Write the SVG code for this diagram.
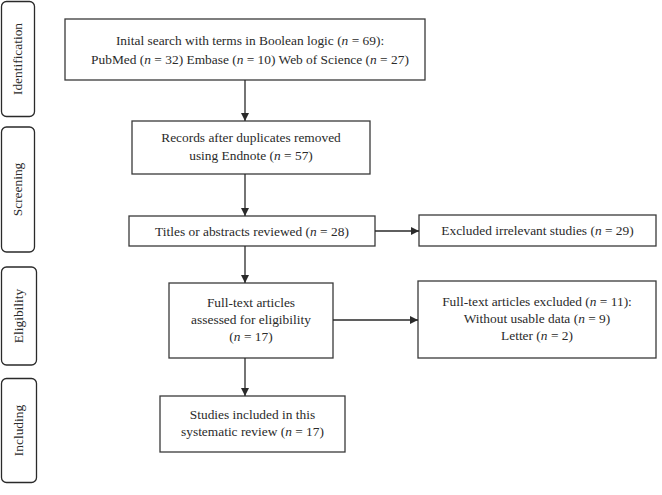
<svg xmlns="http://www.w3.org/2000/svg" width="662" height="495" viewBox="0 0 662 495">
<style>
.box{fill:#fff;stroke:#3a3a3a;stroke-width:1.3}
.side{fill:#fff;stroke:#2a2a2a;stroke-width:1.3}
text{font-family:"Liberation Serif","Times New Roman",serif;font-size:13.4px;fill:#2a2a2a;text-anchor:middle}
.lbl{font-size:13.4px}
.c{stroke:#2a2a2a;stroke-width:1.3;fill:none;marker-end:url(#ah)}
</style>
<defs>
<marker id="ah" markerWidth="10" markerHeight="10" refX="8" refY="4" orient="auto" markerUnits="userSpaceOnUse">
<path d="M0,0 L8,4 L0,8 Z" fill="#2a2a2a"/>
</marker>
</defs>
<rect width="662" height="495" fill="#fff"/>
<g id="stage-identification">
<rect class="side" x="1.5" y="1.5" width="33" height="115" rx="5"/>
<text class="lbl" transform="translate(22,59) rotate(-90)">Identification</text>
</g>
<g id="stage-screening">
<rect class="side" x="1.5" y="127" width="33" height="125" rx="5"/>
<text class="lbl" transform="translate(22,189.5) rotate(-90)">Screening</text>
</g>
<g id="stage-eligibility">
<rect class="side" x="1.5" y="267" width="35" height="98" rx="5"/>
<text class="lbl" transform="translate(23,316) rotate(-90)">Eligibility</text>
</g>
<g id="stage-including">
<rect class="side" x="1.5" y="378.5" width="35" height="104" rx="5"/>
<text class="lbl" transform="translate(23,430.5) rotate(-90)">Including</text>
</g>
<g id="n-search">
<rect class="box" x="65" y="19" width="360" height="61"/>
<text x="250" y="45">Inital search with terms in Boolean logic (<tspan font-style="italic">n</tspan> = 69):</text>
<text x="250" y="64">PubMed (<tspan font-style="italic">n</tspan> = 32) Embase (<tspan font-style="italic">n</tspan> = 10) Web of Science (<tspan font-style="italic">n</tspan> = 27)</text>
</g>
<g id="n-dedup">
<rect class="box" x="132" y="121" width="238" height="53"/>
<text x="251" y="142">Records after duplicates removed</text>
<text x="251" y="160">using Endnote (<tspan font-style="italic">n</tspan> = 57)</text>
</g>
<g id="n-titles">
<rect class="box" x="129" y="216" width="246" height="30"/>
<text x="252" y="235.5">Titles or abstracts reviewed (<tspan font-style="italic">n</tspan> = 28)</text>
</g>
<g id="n-excl1">
<rect class="box" x="419" y="215" width="237" height="31"/>
<text x="537.5" y="235">Excluded irrelevant studies (<tspan font-style="italic">n</tspan> = 29)</text>
</g>
<g id="n-fulltext">
<rect class="box" x="169" y="283" width="164" height="75"/>
<text x="251" y="307">Full-text articles</text>
<text x="251" y="324">assessed for eligibility</text>
<text x="251" y="341">(<tspan font-style="italic">n</tspan> = 17)</text>
</g>
<g id="n-excl2">
<rect class="box" x="418" y="281" width="238" height="77"/>
<text x="537" y="306">Full-text articles excluded (<tspan font-style="italic">n</tspan> = 11):</text>
<text x="537" y="323">Without usable data (<tspan font-style="italic">n</tspan> = 9)</text>
<text x="537" y="340">Letter (<tspan font-style="italic">n</tspan> = 2)</text>
</g>
<g id="n-included">
<rect class="box" x="160" y="396" width="185" height="56"/>
<text x="252.5" y="419">Studies included in this</text>
<text x="252.5" y="436">systematic review (<tspan font-style="italic">n</tspan> = 17)</text>
</g>
<g id="connectors">
<path class="c" d="M245,80 V121"/>
<path class="c" d="M245,174 V216"/>
<path class="c" d="M375,231 H419"/>
<path class="c" d="M245,246 V283"/>
<path class="c" d="M333,320 H418"/>
<path class="c" d="M245,358 V396"/>
</g>
</svg>
